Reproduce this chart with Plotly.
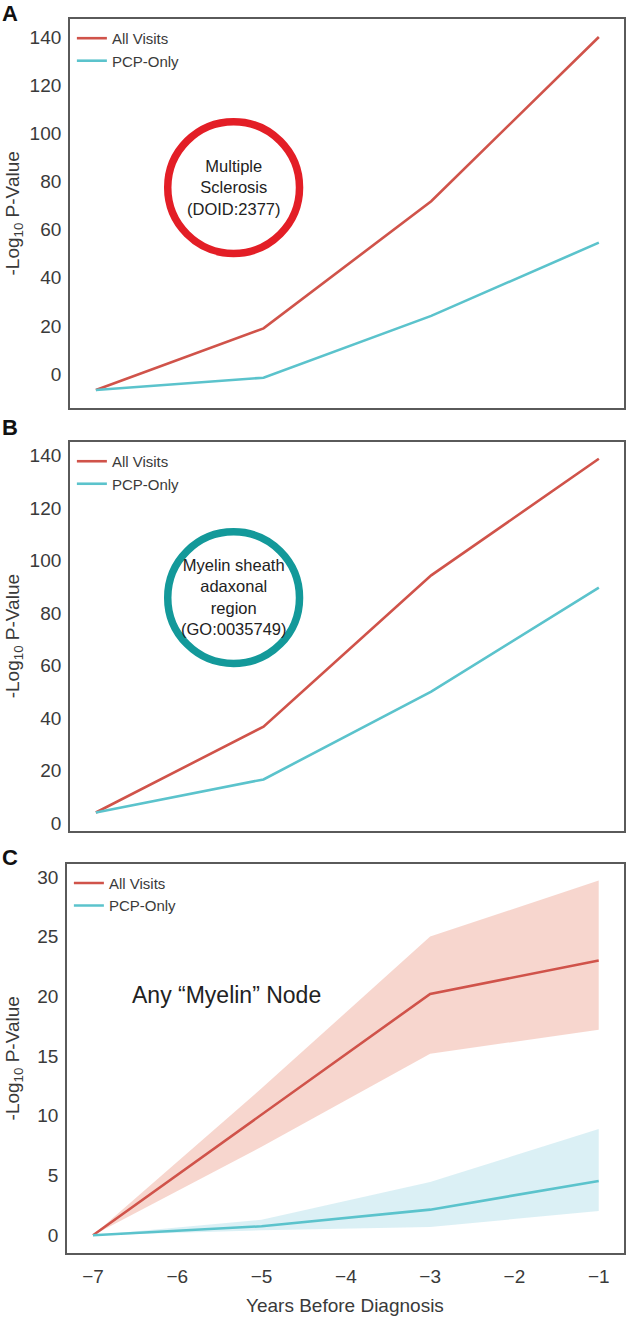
import plotly.graph_objects as go

# ---------------- data ----------------
years = [-7, -5, -3, -1]

# Panel A: Multiple Sclerosis (DOID:2377)
a_all = [-6.6, 19.0, 71.8, 140.0]
a_pcp = [-6.6, -1.5, 24.2, 54.6]

# Panel B: Myelin sheath adaxonal region (GO:0035749)
b_all = [4.1, 36.8, 94.4, 138.8]
b_pcp = [4.1, 16.7, 50.1, 89.7]

# Panel C: Any "Myelin" node (mean with band)
c_all = [0.0, 10.1, 20.2, 23.0]
c_all_hi = [0.0, 12.3, 25.0, 29.7]
c_all_lo = [0.0, 7.4, 15.2, 17.2]
c_pcp = [0.0, 0.75, 2.14, 4.54]
c_pcp_hi = [0.0, 1.3, 4.45, 8.9]
c_pcp_lo = [0.0, 0.42, 0.69, 2.03]

x_ticks = [-7, -6, -5, -4, -3, -2, -1]
ab_ticks = [0, 20, 40, 60, 80, 100, 120, 140]
c_ticks = [0, 5, 10, 15, 20, 25, 30]

series_names = ["All Visits", "PCP-Only"]

# ---------------- styles ----------------
W, H = 626, 1321
RED = "#d0534a"
TEAL = "#5bc3cc"
RED_BAND = "rgba(240,180,165,0.55)"
TEAL_BAND = "rgba(200,232,239,0.65)"
FONT = "Liberation Sans, Arial, Helvetica, sans-serif"
TXT = "#3a3a3a"
FRAME = "#5a5a5a"

def px_x(p):
    return p / W

def px_y(p):
    return 1 - p / H

fig = go.Figure()

panels = [
    ("x", "y", "legend", a_all, a_pcp),
    ("x2", "y2", "legend2", b_all, b_pcp),
    ("x3", "y3", "legend3", c_all, c_pcp),
]

# bands for panel C
for hi, lo, col in [(c_all_hi, c_all_lo, RED_BAND), (c_pcp_hi, c_pcp_lo, TEAL_BAND)]:
    fig.add_trace(go.Scatter(x=years, y=hi, mode="lines", line=dict(width=0, color=col),
                             xaxis="x3", yaxis="y3", showlegend=False, hoverinfo="skip"))
    fig.add_trace(go.Scatter(x=years, y=lo, mode="lines", line=dict(width=0, color=col),
                             fill="tonexty", fillcolor=col,
                             xaxis="x3", yaxis="y3", showlegend=False, hoverinfo="skip"))

for xa, ya, lg, s_all, s_pcp in panels:
    for name, vals, col in [(series_names[0], s_all, RED), (series_names[1], s_pcp, TEAL)]:
        fig.add_trace(go.Scatter(x=years, y=vals, mode="lines", name=name,
                                 line=dict(color=col, width=2.6),
                                 xaxis=xa, yaxis=ya, legend=lg, showlegend=True))

# axes geometry (pixels)
boxes = {
    "A": dict(left=70, right=625, top=19, bottom=409, yr=[-14.1, 147.5], yt=ab_ticks),
    "B": dict(left=70, right=625, top=443, bottom=832.5, yr=[-2.8, 145.2], yt=ab_ticks),
    "C": dict(left=67, right=625, top=865.7, bottom=1256, yr=[-1.5, 31.1], yt=c_ticks),
}

axis_common = dict(showline=True, mirror=True, linecolor=FRAME, linewidth=1.6,
                   showgrid=False, zeroline=False, ticks="",
                   tickfont=dict(family=FONT, size=19, color=TXT))

layout = dict(width=W, height=H, margin=dict(l=0, r=0, t=0, b=0),
              paper_bgcolor="white", plot_bgcolor="white",
              font=dict(family=FONT, color=TXT))

for i, key in enumerate(["A", "B", "C"]):
    b = boxes[key]
    sfx = "" if i == 0 else str(i + 1)
    layout["xaxis" + sfx] = dict(axis_common, domain=[px_x(b["left"]), px_x(b["right"])],
                                 range=[-7.31, -0.70], tickvals=x_ticks,
                                 showticklabels=(key == "C"), anchor="y" + sfx,
                                 ticklabelstandoff=5)
    layout["yaxis" + sfx] = dict(axis_common, domain=[px_y(b["bottom"]), px_y(b["top"])],
                                 range=b["yr"], tickvals=b["yt"], anchor="x" + sfx,
                                 ticklabelstandoff=3)
    lgkey = "legend" if i == 0 else "legend" + str(i + 1)
    layout[lgkey] = dict(x=px_x(b["left"] + 2), y=px_y(b["top"] + 3), xanchor="left", yanchor="top",
                         bgcolor="rgba(0,0,0,0)", borderwidth=0, traceorder="normal",
                         font=dict(family=FONT, size=15, color=TXT),
                         tracegroupgap=0, itemwidth=30)

fig.update_layout(**layout)

annotations = []
# panel letters
for letter, yc in [("A", 14), ("B", 428), ("C", 859)]:
    annotations.append(dict(text="<b>" + letter + "</b>", x=0, y=px_y(yc), xref="paper", yref="paper",
                            xanchor="left", yanchor="middle", showarrow=False,
                            font=dict(family=FONT, size=22, color="#111111")))
# y titles
for key in ["A", "B", "C"]:
    b = boxes[key]
    annotations.append(dict(text="-Log<sub>10</sub> P-Value", x=px_x(14), y=px_y((b["top"] + b["bottom"]) / 2),
                            xref="paper", yref="paper", xanchor="center", yanchor="middle",
                            textangle=-90, showarrow=False,
                            font=dict(family=FONT, size=19, color=TXT)))
# x title
annotations.append(dict(text="Years Before Diagnosis", x=px_x(346), y=px_y(1308), xref="paper", yref="paper",
                        xanchor="center", yanchor="middle", showarrow=False,
                        font=dict(family=FONT, size=19, color=TXT)))
# circle labels
annotations.append(dict(text="Multiple<br>Sclerosis<br>(DOID:2377)", x=px_x(234), y=px_y(188),
                        xref="paper", yref="paper", xanchor="center", yanchor="middle", showarrow=False,
                        align="center", font=dict(family=FONT, size=16.5, color="#222222")))
annotations.append(dict(text="Myelin sheath<br>adaxonal<br>region<br>(GO:0035749)", x=px_x(234), y=px_y(598),
                        xref="paper", yref="paper", xanchor="center", yanchor="middle", showarrow=False,
                        align="center", font=dict(family=FONT, size=16.5, color="#222222")))
annotations.append(dict(text="Any “Myelin” Node", x=px_x(130), y=px_y(997),
                        xref="paper", yref="paper", xanchor="left", yanchor="middle", showarrow=False,
                        font=dict(family=FONT, size=23, color="#222222")))

shapes = []
for (cx, cy, col) in [(234, 188, "#e31e26"), (234, 599, "#13999a")]:
    r = 66
    shapes.append(dict(type="circle", xref="paper", yref="paper",
                       x0=px_x(cx - r), x1=px_x(cx + r), y0=px_y(cy + r), y1=px_y(cy - r),
                       line=dict(color=col, width=7.5), fillcolor="rgba(0,0,0,0)"))

fig.update_layout(annotations=annotations, shapes=shapes)

fig.write_html("out.html", config={"displayModeBar": False},
               post_script="document.body.style.margin='0';")
